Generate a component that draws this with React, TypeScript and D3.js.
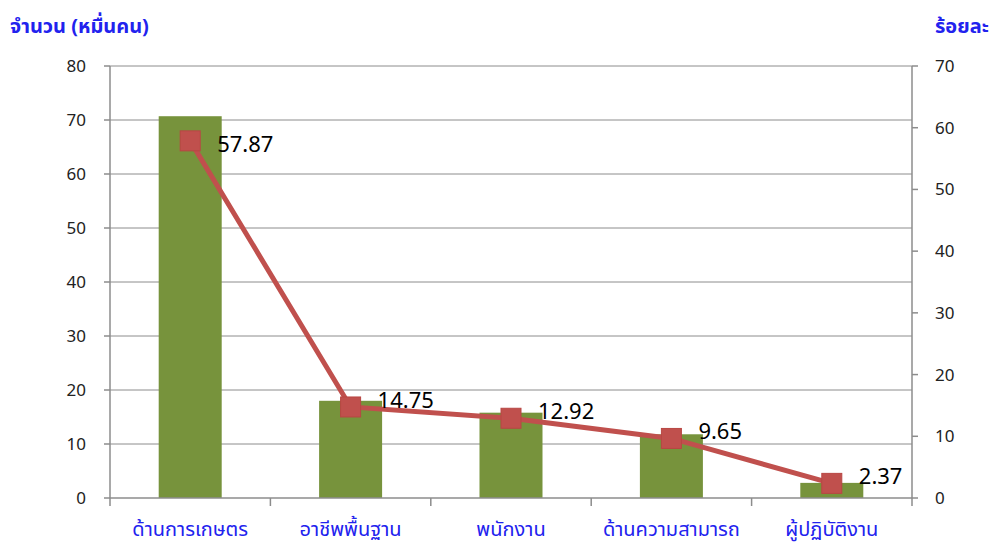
import React, { useEffect, useRef } from "react";
import * as d3 from "d3";

const categories = ["ด้านการเกษตร", "อาชีพพื้นฐาน", "พนักงาน", "ด้านความสามารถ", "ผู้ปฏิบัติงาน"];
const counts = [70.7, 18.0, 15.8, 11.8, 2.8];
const percents = [57.87, 14.75, 12.92, 9.65, 2.37];
const leftTicks = [0, 10, 20, 30, 40, 50, 60, 70, 80];
const rightTicks = [0, 10, 20, 30, 40, 50, 60, 70];

const App = () => {
  const ref = useRef<SVGSVGElement | null>(null);

  useEffect(() => {
    if (!ref.current) return;
    const width = 997, height = 547;
    const left = 110, right = 912, top = 66, bottom = 498;
    const font = "Tahoma, 'Noto Sans Thai', 'Noto Sans', sans-serif";
    const axisColor = "#8c8c8c";

    const svg = d3.select(ref.current);
    svg.selectAll("*").remove();
    svg.attr("width", width).attr("height", height);

    const x = d3.scaleBand().domain(categories).range([left, right]);
    const yL = d3.scaleLinear().domain([0, 80]).range([bottom, top]);
    const yR = d3.scaleLinear().domain([0, 70]).range([bottom, top]);

    // gridlines
    svg.selectAll(".grid").data(leftTicks.filter(d => d > 0)).enter().append("line")
      .attr("x1", left).attr("x2", right)
      .attr("y1", d => yL(d)).attr("y2", d => yL(d))
      .attr("stroke", axisColor).attr("stroke-width", 1);

    // bars
    const barW = 63;
    svg.selectAll(".bar").data(counts).enter().append("rect")
      .attr("x", (d, i) => x(categories[i])! + x.bandwidth() / 2 - barW / 2)
      .attr("y", d => yL(d))
      .attr("width", barW)
      .attr("height", d => bottom - yL(d))
      .attr("fill", "#77933c");

    // axes
    svg.append("line").attr("x1", left).attr("x2", left).attr("y1", top).attr("y2", bottom)
      .attr("stroke", axisColor).attr("stroke-width", 1.5);
    svg.append("line").attr("x1", right).attr("x2", right).attr("y1", top).attr("y2", bottom)
      .attr("stroke", axisColor).attr("stroke-width", 1.5);
    svg.append("line").attr("x1", left).attr("x2", right).attr("y1", bottom).attr("y2", bottom)
      .attr("stroke", axisColor).attr("stroke-width", 1.5);

    // left ticks
    leftTicks.forEach(d => {
      svg.append("line").attr("x1", left - 6).attr("x2", left).attr("y1", yL(d)).attr("y2", yL(d))
        .attr("stroke", axisColor).attr("stroke-width", 1.5);
      svg.append("text").attr("x", 86).attr("y", yL(d) + 6)
        .attr("text-anchor", "end").attr("font-family", font).attr("font-size", 17)
        .attr("fill", "#222").text(d);
    });

    // right ticks
    rightTicks.forEach(d => {
      svg.append("line").attr("x1", right).attr("x2", right + 6).attr("y1", yR(d)).attr("y2", yR(d))
        .attr("stroke", axisColor).attr("stroke-width", 1.5);
      svg.append("text").attr("x", 935).attr("y", yR(d) + 6)
        .attr("text-anchor", "start").attr("font-family", font).attr("font-size", 17)
        .attr("fill", "#222").text(d);
    });

    // x ticks at band boundaries
    const bounds = categories.map(c => x(c)!).concat([right]);
    bounds.forEach(b => {
      svg.append("line").attr("x1", b).attr("x2", b).attr("y1", bottom).attr("y2", bottom + 8)
        .attr("stroke", axisColor).attr("stroke-width", 1.5);
    });

    // x labels
    categories.forEach(c => {
      svg.append("text").attr("x", x(c)! + x.bandwidth() / 2).attr("y", 536)
        .attr("text-anchor", "middle").attr("font-family", font).attr("font-size", 20)
        .attr("fill", "#2222ee").text(c);
    });

    // line
    const cx = (i: number) => x(categories[i])! + x.bandwidth() / 2;
    const line = d3.line<number>().x((d, i) => cx(i)).y(d => yR(d));
    svg.append("path").datum(percents).attr("d", line)
      .attr("fill", "none").attr("stroke", "#c0504d").attr("stroke-width", 5);

    svg.selectAll(".mk").data(percents).enter().append("rect")
      .attr("x", (d, i) => cx(i) - 10).attr("y", d => yR(d) - 10)
      .attr("width", 20).attr("height", 20)
      .attr("fill", "#c0504d").attr("stroke", "#b84643").attr("stroke-width", 1);

    svg.selectAll(".lbl").data(percents).enter().append("text")
      .attr("x", (d, i) => cx(i) + 27).attr("y", (d, i) => yR(d) + (i === 0 ? 11 : 1))
      .attr("font-family", font).attr("font-size", 22).attr("fill", "#000")
      .text(d => d.toFixed(2));

    // titles
    svg.append("text").attr("x", 10).attr("y", 33)
      .attr("font-family", font).attr("font-size", 20).attr("font-weight", "bold")
      .attr("fill", "#2222ee").text("จำนวน (หมื่นคน)");
    svg.append("text").attr("x", 935).attr("y", 33)
      .attr("font-family", font).attr("font-size", 20).attr("font-weight", "bold")
      .attr("fill", "#2222ee").text("ร้อยละ");
  }, []);

  return (
    <div style={{ position: "absolute", left: 0, top: 0 }}>
      <svg ref={ref}></svg>
    </div>
  );
};

export default App;
